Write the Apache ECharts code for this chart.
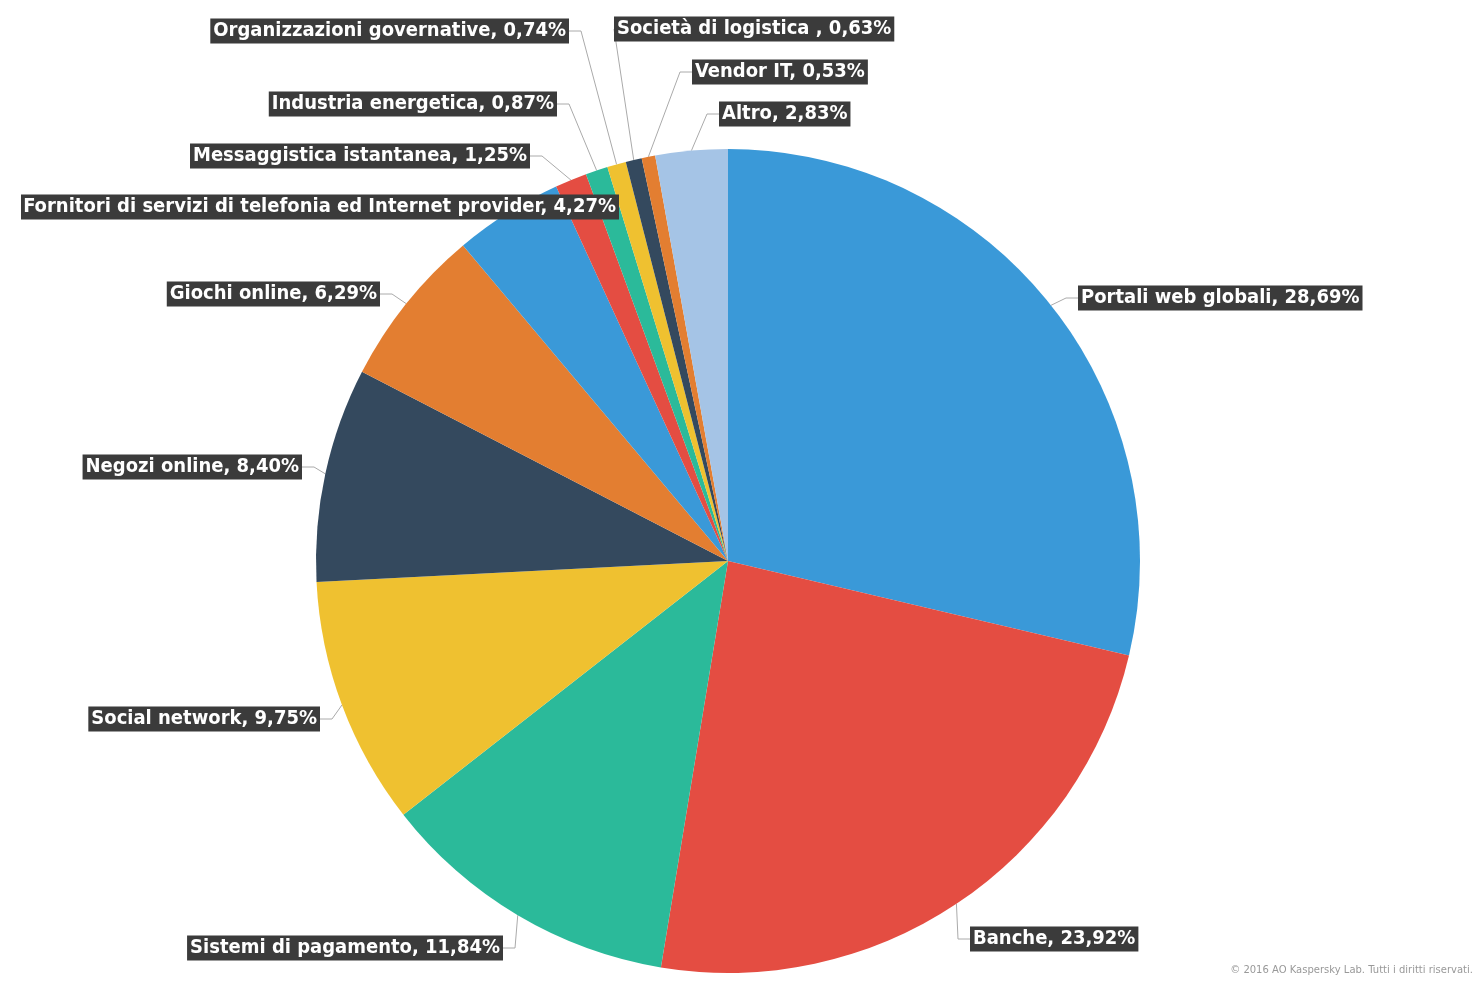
<!DOCTYPE html>
<html><head><meta charset="utf-8">
<script src="https://cdn.jsdelivr.net/npm/echarts@6/dist/echarts.min.js"></script>
<style>html,body{margin:0;padding:0;background:#fff}#c{width:1483px;height:987px}</style>
</head><body><div id="c"></div>
<script>
const categories = ["Portali web globali","Banche","Sistemi di pagamento","Social network","Negozi online","Giochi online","Fornitori di servizi di telefonia ed Internet provider","Messaggistica istantanea","Industria energetica","Organizzazioni governative","Società di logistica ","Vendor IT","Altro"];
const labelTexts = ["Portali web globali, 28,69%","Banche, 23,92%","Sistemi di pagamento, 11,84%","Social network, 9,75%","Negozi online, 8,40%","Giochi online, 6,29%","Fornitori di servizi di telefonia ed Internet provider, 4,27%","Messaggistica istantanea, 1,25%","Industria energetica, 0,87%","Organizzazioni governative, 0,74%","Società di logistica , 0,63%","Vendor IT, 0,53%","Altro, 2,83%"];
const values = [28.69,23.92,11.84,9.75,8.40,6.29,4.27,1.25,0.87,0.74,0.63,0.53,2.83];
const colors = ["#3a99d8","#e44d42","#2bba9a","#efc130","#34495e","#e37e31","#3a99d8","#e44d42","#2bba9a","#efc130","#34495e","#e37e31","#a5c4e6"];
// label box anchors: [x, y, align]
const labelPos = [[1078,298,'left'],[970,939,'left'],[503,948,'right'],[320,719,'right'],[302,467,'right'],[380,294,'right'],[619,207,'right'],[530,156,'right'],[557,104,'right'],[569,31,'right'],[614,29,'left'],[692,72,'left'],[719,114,'left']];
const chart = echarts.init(document.getElementById('c'));
chart.setOption({
  animation:false,
  graphic:[{type:'text',right:10,bottom:12,style:{text:'© 2016 AO Kaspersky Lab. Tutti i diritti riservati.',fill:'#999',font:'10px "DejaVu Sans"'}}],
  series:[{
    type:'pie', center:[728,561], radius:412, startAngle:90, clockwise:true,
    data: categories.map((c,i)=>({name:c,value:values[i],itemStyle:{color:colors[i]},label:i===6?{formatter:labelTexts[i],width:592,overflow:'none'}:{formatter:labelTexts[i]}})),
    label:{show:true,overflow:'none',color:'#fff',backgroundColor:'#3b3b3b',padding:[3,3,2,3],fontFamily:'"DejaVu Sans Condensed",sans-serif',fontWeight:'bold',fontSize:20,letterSpacing:-0.8},
    labelLine:{show:true,length:12,length2:12,lineStyle:{color:'#aaa',width:1}},
    labelLayout:function(p){const q=labelPos[p.dataIndex];return {x:q[0],y:q[1],align:q[2],verticalAlign:'middle',hideOverlap:false};},
    itemStyle:{borderWidth:0}
  }]
});
</script></body></html>
